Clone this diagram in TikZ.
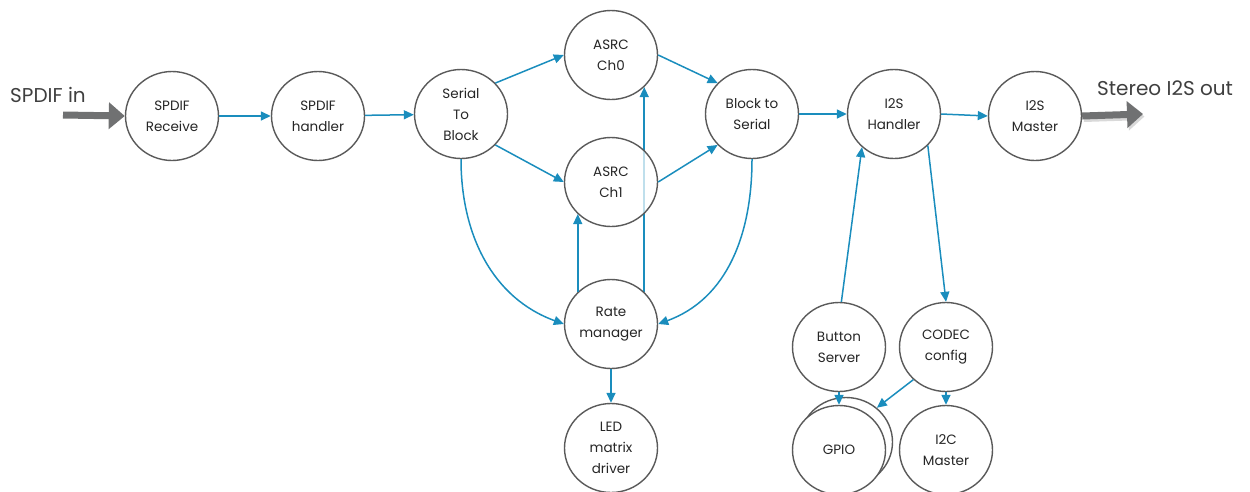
\documentclass[tikz,border=0pt]{standalone}
\usepackage{fontspec}
\setmainfont{Poppins}
\usetikzlibrary{arrows.meta,shapes.geometric,backgrounds}
\definecolor{flow}{HTML}{1A8DBD}
\definecolor{ring}{HTML}{5A5A5A}
\definecolor{bigarrow}{HTML}{707172}
\definecolor{labeltext}{HTML}{3F3F3F}
\begin{document}
\begin{tikzpicture}[x=1pt,y=1pt,
  proc/.style={ellipse, draw=ring, line width=1.4pt, fill=white, minimum width=93pt, minimum height=89pt,
    inner sep=0pt, align=center, font=\fontsize{13.5}{21}\selectfont, text=black!85},
  seethrough/.style={fill opacity=0.72, text opacity=1},
  link/.style={draw=flow, line width=1.5pt, -{Triangle[length=10pt,width=9pt]}},
  big/.style={draw=bigarrow, line width=7pt, -{Triangle[length=16pt,width=26pt]}},
  biglabel/.style={font=\fontsize{20}{24}\selectfont, text=labeltext, anchor=base west, inner sep=0pt}]
\useasboundingbox (0,0) rectangle (1250,-491);

% nodes
\node[proc] (rx)  at (172,-116) {SPDIF\\Receive};
\node[proc] (hd)  at (318,-116) {SPDIF\\handler};
\node[proc] (stb) at (461,-114) {Serial\\To\\Block};
\node[proc] (a0)  at (611,-55)  {ASRC\\Ch0};
\node[proc,seethrough] (a1)  at (611,-182) {ASRC\\Ch1};
\node[proc] (bts) at (752,-114) {Block to\\Serial};
\node[proc] (ih)  at (894,-114) {I2S\\Handler};
\node[proc] (im)  at (1035,-116) {I2S\\Master};
\node[proc] (rm)  at (611,-324) {Rate\\manager};
\node[proc] (led) at (611,-448) {LED\\matrix\\driver};
\node[proc] (btn) at (839,-347) {Button\\Server};
\node[proc] (cdc) at (946,-347) {CODEC\\config};
\node[proc] (gb)  at (846,-442) {};
\node[proc] (gp)  at (839,-450) {GPIO};
\node[proc] (i2c) at (946,-450) {I2C\\Master};

% external labels and big arrows
\node[biglabel] (lin) at (10,-102) {SPDIF in};
\node[biglabel] (lout) at (1097,-95) {Stereo I2S out};
\coordinate (inS) at (63,-115);
\coordinate (outE) at (1143,-114);
\draw[big] (inS) -- (rx.west);
\draw[big, draw=black!15, transform canvas={shift={(1.5pt,-2.5pt)}}] (im.east) -- (outE);
\draw[big] (im.east) -- (outE);

% connectors
\draw[link] (rx) -- (hd);
\draw[link] (hd) -- (stb);
\draw[link] (stb.42) -- (a0.west);
\draw[link] (stb.-42) -- (a1.west);
\draw[link] (a0.east) -- (bts.138);
\draw[link] (a1.east) -- (bts.222);
\draw[link] (bts) -- (ih);
\draw[link] (ih.east) -- (im.west);
\draw[link] (stb.south) to[out=-90,in=160] (rm.west);
\draw[link] (bts.south) to[out=-90,in=20] (rm.east);
\draw[link] (rm.136) -- (a1.224);
\begin{scope}[on background layer]
\draw[link] (rm.44) -- (a0.316);
\end{scope}
\draw[link] (rm.south) -- (led.north);
\draw[link] (btn.87) -- (ih.226);
\draw[link] (ih.317) -- (cdc.north);
\draw[link] (btn.south) -- (gp.north);
\draw[link] (cdc.225) -- (gb.48);
\draw[link] (cdc.south) -- (i2c.north);
\end{tikzpicture}
\end{document}
